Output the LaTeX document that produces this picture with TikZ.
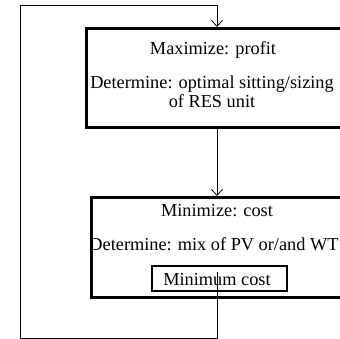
\documentclass[tikz,border=0pt]{standalone}
\usepackage{fontspec}
\setmainfont{Liberation Serif}
\usetikzlibrary{arrows.meta}
\begin{document}
\begin{tikzpicture}[x=1pt,y=-1pt,
  bigbox/.style={draw,line width=2.6pt,minimum width=270pt,anchor=north west,inner sep=0pt},
  smallbox/.style={draw,line width=1.2pt,minimum width=135pt,minimum height=25pt,inner sep=0pt},
  txt/.style={font=\fontsize{18.3}{19}\selectfont,align=center},
  conn/.style={line width=0.8pt},
  arr/.style={conn,-{Straight Barb[length=6pt,width=11pt]}}]
\useasboundingbox (0,0) rectangle (340,339);
\clip (0,0) rectangle (340,339);
\draw[fill=white,draw=none] (0,0) rectangle (340,339);
\node[bigbox,minimum height=99pt] (top) at (85,27) {};
\node[txt] (t1) at (213,50) {Maximize: profit};
\node[txt] (t2) at (212,92) {Determine: optimal sitting/sizing\\of RES unit};
\node[bigbox,minimum height=100pt] (bot) at (90,196) {};
\node[txt] (b1) at (217,211) {Minimize: cost};
\node[txt] (b2) at (214,244) {Determine: mix of PV or/and WT};
\node[smallbox] (mc) at (219.5,278.5) {};
\node[txt] (mct) at (217,280) {Minimum cost};
\coordinate (start) at (217,272);
\coordinate (c1) at (217,338);
\coordinate (c2) at (20,338);
\coordinate (c3) at (20,5);
\coordinate (c4) at (217,5);
\draw[arr] (top.south -| c4) -- (bot.north -| c4);
\draw[arr] (start) -- (c1) -- (c2) -- (c3) -- (c4) -- (top.north -| c4);
\end{tikzpicture}
\end{document}
